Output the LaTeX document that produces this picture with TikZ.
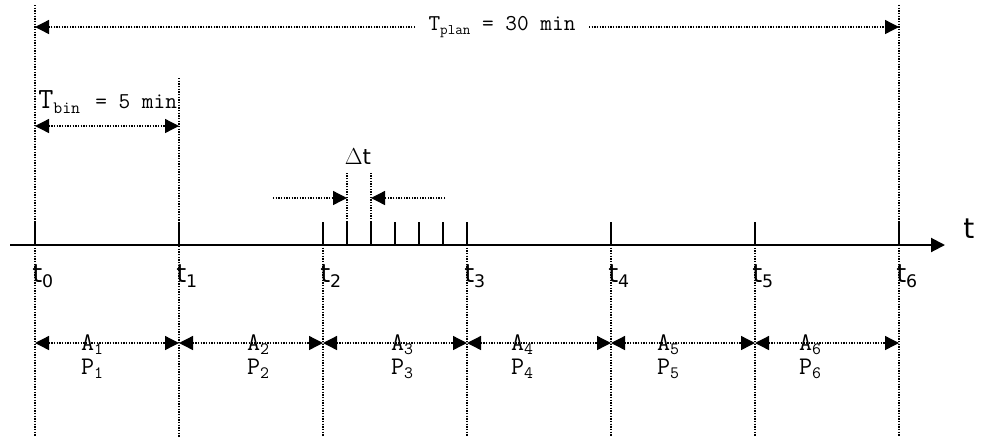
\documentclass[tikz,border=0pt]{standalone}
\usepackage{fontspec}
\newfontfamily\gothfont{DejaVu Sans}
\usetikzlibrary{arrows.meta,calc}

\begin{document}
\begin{tikzpicture}[x=0.75pt,y=-0.75pt,
  dots/.style={line width=1pt,dash pattern=on 1pt off 1pt},
  axis/.style={line width=1.5pt},
  tip/.style={-{Triangle[length=10.5pt,width=10.5pt]}},
  dimarrow/.style={dots,{Triangle[length=10.5pt,width=10.5pt]}-{Triangle[length=10.5pt,width=10.5pt]}},
  tlab/.style={font=\gothfont\fontsize{19}{21}\selectfont,inner sep=0pt},
  clab/.style={font=\ttfamily\fontsize{17}{19}\selectfont,inner sep=0pt},
  binlab/.style={font=\ttfamily\fontsize{19}{21}\selectfont,inner sep=0pt}]
\useasboundingbox (0,0) rectangle (981,437);

% time axis
\coordinate (start) at (10,245);
\coordinate (end) at (945,245);
\draw[axis,tip] (start) -- (end);
\node[tlab,font=\gothfont\fontsize{21}{23}\selectfont,anchor=base west] (t) at (963,238) {t};

\foreach \i in {0,...,6} {
  \coordinate (t\i) at (35+144*\i,245);
  \draw[axis] (t\i) -- ++(0,-23);
  \node[tlab,anchor=base west] (lab\i) at ($(t\i)+(-3,37)$) {t\raisebox{-4pt}{\fontsize{13}{13}\selectfont\i}};
}
\foreach \j in {1,...,5} {
  \coordinate (s\j) at (323+24*\j,245);
  \draw[axis] (s\j) -- ++(0,-23);
}

% dotted guides
\draw[dots] (t0 |- 0,5) -- (t0 |- 0,437);
\draw[dots] (t6 |- 0,5) -- (t6 |- 0,437);
\draw[dots] (t1 |- 0,78) -- (t1 |- 0,437);
\foreach \i in {2,...,5}
  \draw[dots] (t\i) -- (t\i |- 0,437);

% planning horizon
\node[clab,inner xsep=10pt] (plan) at (502,27) {T\raisebox{-3pt}{\fontsize{11}{11}\selectfont plan} = 30 min};
\draw[dots,tip] (plan.west) -- (t0 |- plan);
\draw[dots,tip] (plan.east) -- (t6 |- plan);

% bin length
\node[clab,anchor=base west,font=\ttfamily\fontsize{22}{24}\selectfont] (bin) at (38,108) {T\raisebox{-4pt}{\fontsize{13}{13}\selectfont bin} \fontsize{17}{19}\selectfont= 5 min};
\draw[dimarrow] (t0 |- 0,126) -- (t1 |- 0,126);

% sampling step
\draw[dots] (s1) ++(0,-23) -- (s1 |- 0,173);
\draw[dots] (s2) ++(0,-23) -- (s2 |- 0,173);
\coordinate (dtl) at (273,198);
\coordinate (dtr) at (445,198);
\draw[dots,tip] (dtl) -- (s1 |- dtl);
\draw[dots,tip] (dtr) -- (s2 |- dtr);
\node[tlab,font=\gothfont\fontsize{16}{18}\selectfont] (dt) at (358,157) {$\Delta$t};

% bins
\foreach \i/\j/\x in {0/1/92,1/2/258,2/3/402,3/4/522,4/5/668,5/6/810} {
  \draw[dimarrow] (t\i |- 0,343) -- (t\j |- 0,343);
  \node[binlab] (a\j) at (\x,345) {A\raisebox{-3pt}{\fontsize{13}{13}\selectfont\j}};
  \node[binlab] (p\j) at (\x,369) {P\raisebox{-3pt}{\fontsize{13}{13}\selectfont\j}};
}
\end{tikzpicture}
\end{document}
